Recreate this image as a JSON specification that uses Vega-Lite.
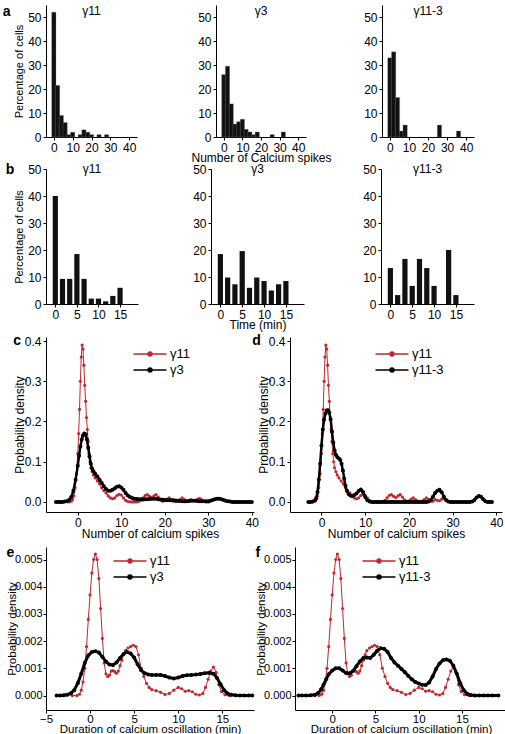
{
"$schema":"https://vega.github.io/schema/vega-lite/v6.json",
"background":"white",
"padding":{"left":2,"top":5,"right":0,"bottom":0},
"config":{
 "font":"Liberation Sans",
 "view":{"stroke":null},
 "axis":{"grid":false,"domainColor":"#000","tickColor":"#000","labelColor":"#000","titleColor":"#000","labelFont":"Liberation Sans","titleFont":"Liberation Sans","labelFontSize":12,"titleFontSize":12,"titleFontWeight":"normal","tickSize":3,"labelPadding":2,"titlePadding":3,"labelFlush":false},
 "title":{"font":"Liberation Sans","fontWeight":"normal","fontSize":12,"color":"#000"},
 "legend":{"labelFont":"Liberation Sans","labelFontSize":13,"labelColor":"#000","rowPadding":0,"symbolSize":272}
},
"datasets":{
 "hA":[
  {"p":"γ11","x":0,"v":52},{"p":"γ11","x":2,"v":21.5},{"p":"γ11","x":4,"v":9},{"p":"γ11","x":6,"v":6},{"p":"γ11","x":8,"v":1},{"p":"γ11","x":10,"v":2},{"p":"γ11","x":14,"v":1},{"p":"γ11","x":16,"v":3},{"p":"γ11","x":18,"v":2},{"p":"γ11","x":20,"v":1},{"p":"γ11","x":24,"v":1},{"p":"γ11","x":28,"v":1},
  {"p":"γ3","x":0,"v":26},{"p":"γ3","x":2,"v":29.5},{"p":"γ3","x":4,"v":13.8},{"p":"γ3","x":6,"v":5.4},{"p":"γ3","x":8,"v":6.4},{"p":"γ3","x":10,"v":7.4},{"p":"γ3","x":12,"v":3.2},{"p":"γ3","x":14,"v":2.1},{"p":"γ3","x":16,"v":1},{"p":"γ3","x":18,"v":2.1},{"p":"γ3","x":26,"v":1},{"p":"γ3","x":32,"v":2.1},
  {"p":"γ11-3","x":0,"v":33},{"p":"γ11-3","x":2,"v":35.5},{"p":"γ11-3","x":4,"v":16.5},{"p":"γ11-3","x":6,"v":2.5},{"p":"γ11-3","x":8,"v":5},{"p":"γ11-3","x":26,"v":5},{"p":"γ11-3","x":36,"v":2.5}
 ],
 "hB":[
  {"p":"γ11","t":0,"v":40},{"p":"γ11","t":1.667,"v":9.3},{"p":"γ11","t":3.333,"v":9.3},{"p":"γ11","t":5,"v":18.5},{"p":"γ11","t":6.667,"v":9.3},{"p":"γ11","t":8.333,"v":2},{"p":"γ11","t":10,"v":2},{"p":"γ11","t":11.667,"v":1},{"p":"γ11","t":13.333,"v":3},{"p":"γ11","t":15,"v":6},
  {"p":"γ3","t":0,"v":18.5},{"p":"γ3","t":1.667,"v":9.8},{"p":"γ3","t":3.333,"v":7.3},{"p":"γ3","t":5,"v":19.6},{"p":"γ3","t":6.667,"v":6},{"p":"γ3","t":8.333,"v":9.8},{"p":"γ3","t":10,"v":8.5},{"p":"γ3","t":11.667,"v":5},{"p":"γ3","t":13.333,"v":7.3},{"p":"γ3","t":15,"v":8.5},
  {"p":"γ11-3","t":0,"v":13.3},{"p":"γ11-3","t":1.667,"v":3.3},{"p":"γ11-3","t":3.333,"v":16.7},{"p":"γ11-3","t":5,"v":6.7},{"p":"γ11-3","t":6.667,"v":16.7},{"p":"γ11-3","t":8.333,"v":13.3},{"p":"γ11-3","t":10,"v":6.7},{"p":"γ11-3","t":13.333,"v":20},{"p":"γ11-3","t":15,"v":3.3}
 ],
 "spk":[
  {"s":"γ11","x":-2,"y":0},{"s":"γ11","x":-1.5,"y":0.002},{"s":"γ11","x":-1.2,"y":0.006},{"s":"γ11","x":-0.9,"y":0.015},{"s":"γ11","x":-0.6,"y":0.035},{"s":"γ11","x":-0.3,"y":0.07},{"s":"γ11","x":0,"y":0.12},{"s":"γ11","x":0.2,"y":0.17},{"s":"γ11","x":0.4,"y":0.23},{"s":"γ11","x":0.6,"y":0.3},{"s":"γ11","x":0.8,"y":0.36},{"s":"γ11","x":1,"y":0.39},{"s":"γ11","x":1.2,"y":0.38},{"s":"γ11","x":1.4,"y":0.34},{"s":"γ11","x":1.6,"y":0.29},{"s":"γ11","x":1.8,"y":0.25},{"s":"γ11","x":2,"y":0.21},{"s":"γ11","x":2.2,"y":0.18},{"s":"γ11","x":2.4,"y":0.15},{"s":"γ11","x":2.6,"y":0.12},{"s":"γ11","x":2.8,"y":0.1},{"s":"γ11","x":3,"y":0.085},{"s":"γ11","x":3.3,"y":0.075},{"s":"γ11","x":3.6,"y":0.067},{"s":"γ11","x":4,"y":0.06},{"s":"γ11","x":4.5,"y":0.052},{"s":"γ11","x":5,"y":0.045},{"s":"γ11","x":5.5,"y":0.035},{"s":"γ11","x":6,"y":0.028},{"s":"γ11","x":6.5,"y":0.022},{"s":"γ11","x":7,"y":0.015},{"s":"γ11","x":7.5,"y":0.01},{"s":"γ11","x":8,"y":0.008},{"s":"γ11","x":8.5,"y":0.01},{"s":"γ11","x":9,"y":0.016},{"s":"γ11","x":9.5,"y":0.019},{"s":"γ11","x":10,"y":0.017},{"s":"γ11","x":10.5,"y":0.01},{"s":"γ11","x":11,"y":0.004},{"s":"γ11","x":11.5,"y":0.001},{"s":"γ11","x":12,"y":0},{"s":"γ11","x":12.5,"y":0},{"s":"γ11","x":13,"y":0},{"s":"γ11","x":13.5,"y":0},{"s":"γ11","x":14,"y":0.001},{"s":"γ11","x":14.5,"y":0.004},{"s":"γ11","x":15,"y":0.01},{"s":"γ11","x":15.5,"y":0.016},{"s":"γ11","x":16,"y":0.018},{"s":"γ11","x":16.5,"y":0.014},{"s":"γ11","x":17,"y":0.011},{"s":"γ11","x":17.5,"y":0.015},{"s":"γ11","x":18,"y":0.018},{"s":"γ11","x":18.5,"y":0.012},{"s":"γ11","x":19,"y":0.005},{"s":"γ11","x":19.5,"y":0.002},{"s":"γ11","x":20,"y":0.003},{"s":"γ11","x":20.5,"y":0.007},{"s":"γ11","x":21,"y":0.01},{"s":"γ11","x":21.5,"y":0.006},{"s":"γ11","x":22,"y":0.002},{"s":"γ11","x":22.5,"y":0.001},{"s":"γ11","x":23,"y":0.002},{"s":"γ11","x":23.5,"y":0.006},{"s":"γ11","x":24,"y":0.01},{"s":"γ11","x":24.5,"y":0.006},{"s":"γ11","x":25,"y":0.002},{"s":"γ11","x":25.5,"y":0.002},{"s":"γ11","x":26,"y":0.006},{"s":"γ11","x":26.5,"y":0.004},{"s":"γ11","x":27,"y":0.003},{"s":"γ11","x":27.5,"y":0.007},{"s":"γ11","x":28,"y":0.009},{"s":"γ11","x":28.5,"y":0.005},{"s":"γ11","x":29,"y":0.001},{"s":"γ11","x":29.5,"y":0},{"s":"γ11","x":30,"y":0},
  {"s":"γ3","x":-5,"y":0},{"s":"γ3","x":-4.5,"y":0},{"s":"γ3","x":-4,"y":0},{"s":"γ3","x":-3.5,"y":0},{"s":"γ3","x":-3,"y":0.001},{"s":"γ3","x":-2.5,"y":0.002},{"s":"γ3","x":-2,"y":0.005},{"s":"γ3","x":-1.5,"y":0.012},{"s":"γ3","x":-1,"y":0.028},{"s":"γ3","x":-0.5,"y":0.055},{"s":"γ3","x":0,"y":0.09},{"s":"γ3","x":0.3,"y":0.115},{"s":"γ3","x":0.6,"y":0.138},{"s":"γ3","x":0.9,"y":0.155},{"s":"γ3","x":1.2,"y":0.165},{"s":"γ3","x":1.5,"y":0.17},{"s":"γ3","x":1.8,"y":0.168},{"s":"γ3","x":2.1,"y":0.155},{"s":"γ3","x":2.4,"y":0.135},{"s":"γ3","x":2.7,"y":0.113},{"s":"γ3","x":3,"y":0.095},{"s":"γ3","x":3.3,"y":0.083},{"s":"γ3","x":3.6,"y":0.076},{"s":"γ3","x":4,"y":0.07},{"s":"γ3","x":4.5,"y":0.063},{"s":"γ3","x":5,"y":0.055},{"s":"γ3","x":5.5,"y":0.047},{"s":"γ3","x":6,"y":0.039},{"s":"γ3","x":6.5,"y":0.032},{"s":"γ3","x":7,"y":0.028},{"s":"γ3","x":7.5,"y":0.028},{"s":"γ3","x":8,"y":0.03},{"s":"γ3","x":8.5,"y":0.034},{"s":"γ3","x":9,"y":0.038},{"s":"γ3","x":9.5,"y":0.039},{"s":"γ3","x":10,"y":0.036},{"s":"γ3","x":10.5,"y":0.03},{"s":"γ3","x":11,"y":0.022},{"s":"γ3","x":11.5,"y":0.016},{"s":"γ3","x":12,"y":0.012},{"s":"γ3","x":12.5,"y":0.01},{"s":"γ3","x":13,"y":0.008},{"s":"γ3","x":13.5,"y":0.0075},{"s":"γ3","x":14,"y":0.007},{"s":"γ3","x":14.5,"y":0.0065},{"s":"γ3","x":15,"y":0.006},{"s":"γ3","x":15.5,"y":0.0065},{"s":"γ3","x":16,"y":0.007},{"s":"γ3","x":16.5,"y":0.0075},{"s":"γ3","x":17,"y":0.008},{"s":"γ3","x":17.5,"y":0.008},{"s":"γ3","x":18,"y":0.008},{"s":"γ3","x":18.5,"y":0.007},{"s":"γ3","x":19,"y":0.006},{"s":"γ3","x":19.5,"y":0.0055},{"s":"γ3","x":20,"y":0.005},{"s":"γ3","x":20.5,"y":0.0045},{"s":"γ3","x":21,"y":0.004},{"s":"γ3","x":21.5,"y":0.004},{"s":"γ3","x":22,"y":0.004},{"s":"γ3","x":22.5,"y":0.0035},{"s":"γ3","x":23,"y":0.003},{"s":"γ3","x":23.5,"y":0.0025},{"s":"γ3","x":24,"y":0.002},{"s":"γ3","x":24.5,"y":0.002},{"s":"γ3","x":25,"y":0.002},{"s":"γ3","x":25.5,"y":0.0025},{"s":"γ3","x":26,"y":0.003},{"s":"γ3","x":26.5,"y":0.003},{"s":"γ3","x":27,"y":0.003},{"s":"γ3","x":27.5,"y":0.0025},{"s":"γ3","x":28,"y":0.002},{"s":"γ3","x":28.5,"y":0.002},{"s":"γ3","x":29,"y":0.002},{"s":"γ3","x":29.5,"y":0.002},{"s":"γ3","x":30,"y":0.002},{"s":"γ3","x":30.5,"y":0.003},{"s":"γ3","x":31,"y":0.005},{"s":"γ3","x":31.5,"y":0.007},{"s":"γ3","x":32,"y":0.008},{"s":"γ3","x":32.5,"y":0.008},{"s":"γ3","x":33,"y":0.007},{"s":"γ3","x":33.5,"y":0.005},{"s":"γ3","x":34,"y":0.003},{"s":"γ3","x":34.5,"y":0.002},{"s":"γ3","x":35,"y":0.001},{"s":"γ3","x":35.5,"y":0},{"s":"γ3","x":36,"y":0},{"s":"γ3","x":36.5,"y":0},{"s":"γ3","x":37,"y":0},{"s":"γ3","x":37.5,"y":0},{"s":"γ3","x":38,"y":0},{"s":"γ3","x":38.5,"y":0},{"s":"γ3","x":39,"y":0},{"s":"γ3","x":39.5,"y":0},{"s":"γ3","x":40,"y":0},
  {"s":"γ11-3","x":-3,"y":0},{"s":"γ11-3","x":-2.5,"y":0},{"s":"γ11-3","x":-2,"y":0.001},{"s":"γ11-3","x":-1.5,"y":0.004},{"s":"γ11-3","x":-1.2,"y":0.01},{"s":"γ11-3","x":-0.9,"y":0.025},{"s":"γ11-3","x":-0.6,"y":0.055},{"s":"γ11-3","x":-0.3,"y":0.095},{"s":"γ11-3","x":0,"y":0.14},{"s":"γ11-3","x":0.3,"y":0.18},{"s":"γ11-3","x":0.6,"y":0.205},{"s":"γ11-3","x":0.9,"y":0.22},{"s":"γ11-3","x":1.2,"y":0.227},{"s":"γ11-3","x":1.5,"y":0.228},{"s":"γ11-3","x":1.8,"y":0.222},{"s":"γ11-3","x":2.1,"y":0.205},{"s":"γ11-3","x":2.4,"y":0.175},{"s":"γ11-3","x":2.7,"y":0.148},{"s":"γ11-3","x":3,"y":0.128},{"s":"γ11-3","x":3.3,"y":0.117},{"s":"γ11-3","x":3.6,"y":0.112},{"s":"γ11-3","x":4,"y":0.108},{"s":"γ11-3","x":4.3,"y":0.104},{"s":"γ11-3","x":4.6,"y":0.095},{"s":"γ11-3","x":4.9,"y":0.078},{"s":"γ11-3","x":5.2,"y":0.058},{"s":"γ11-3","x":5.5,"y":0.04},{"s":"γ11-3","x":5.8,"y":0.028},{"s":"γ11-3","x":6.2,"y":0.02},{"s":"γ11-3","x":6.6,"y":0.016},{"s":"γ11-3","x":7,"y":0.015},{"s":"γ11-3","x":7.5,"y":0.017},{"s":"γ11-3","x":8,"y":0.021},{"s":"γ11-3","x":8.5,"y":0.027},{"s":"γ11-3","x":9,"y":0.031},{"s":"γ11-3","x":9.5,"y":0.025},{"s":"γ11-3","x":10,"y":0.012},{"s":"γ11-3","x":10.5,"y":0.004},{"s":"γ11-3","x":11,"y":0.001},{"s":"γ11-3","x":11.5,"y":0},{"s":"γ11-3","x":12,"y":0},{"s":"γ11-3","x":12.5,"y":0},{"s":"γ11-3","x":13,"y":0},{"s":"γ11-3","x":13.5,"y":0},{"s":"γ11-3","x":14,"y":0},{"s":"γ11-3","x":14.5,"y":0},{"s":"γ11-3","x":15,"y":0},{"s":"γ11-3","x":15.5,"y":0},{"s":"γ11-3","x":16,"y":0},{"s":"γ11-3","x":16.5,"y":0},{"s":"γ11-3","x":17,"y":0},{"s":"γ11-3","x":17.5,"y":0},{"s":"γ11-3","x":18,"y":0},{"s":"γ11-3","x":18.5,"y":0},{"s":"γ11-3","x":19,"y":0},{"s":"γ11-3","x":19.5,"y":0},{"s":"γ11-3","x":20,"y":0},{"s":"γ11-3","x":20.5,"y":0},{"s":"γ11-3","x":21,"y":0},{"s":"γ11-3","x":21.5,"y":0},{"s":"γ11-3","x":22,"y":0},{"s":"γ11-3","x":22.5,"y":0},{"s":"γ11-3","x":23,"y":0},{"s":"γ11-3","x":23.5,"y":0},{"s":"γ11-3","x":24,"y":0},{"s":"γ11-3","x":24.5,"y":0.001},{"s":"γ11-3","x":25,"y":0.005},{"s":"γ11-3","x":25.5,"y":0.013},{"s":"γ11-3","x":26,"y":0.022},{"s":"γ11-3","x":26.5,"y":0.028},{"s":"γ11-3","x":27,"y":0.03},{"s":"γ11-3","x":27.5,"y":0.024},{"s":"γ11-3","x":28,"y":0.013},{"s":"γ11-3","x":28.5,"y":0.005},{"s":"γ11-3","x":29,"y":0.001},{"s":"γ11-3","x":29.5,"y":0},{"s":"γ11-3","x":30,"y":0},{"s":"γ11-3","x":30.5,"y":0},{"s":"γ11-3","x":31,"y":0},{"s":"γ11-3","x":31.5,"y":0},{"s":"γ11-3","x":32,"y":0},{"s":"γ11-3","x":32.5,"y":0},{"s":"γ11-3","x":33,"y":0},{"s":"γ11-3","x":33.5,"y":0},{"s":"γ11-3","x":34,"y":0},{"s":"γ11-3","x":34.5,"y":0.001},{"s":"γ11-3","x":35,"y":0.005},{"s":"γ11-3","x":35.5,"y":0.011},{"s":"γ11-3","x":36,"y":0.015},{"s":"γ11-3","x":36.5,"y":0.013},{"s":"γ11-3","x":37,"y":0.007},{"s":"γ11-3","x":37.5,"y":0.002},{"s":"γ11-3","x":38,"y":0},{"s":"γ11-3","x":38.5,"y":0},{"s":"γ11-3","x":39,"y":0}
 ],
 "dur":[
  {"s":"γ11","x":-2,"y":0},{"s":"γ11","x":-1.5,"y":0},{"s":"γ11","x":-1.2,"y":0.00005},{"s":"γ11","x":-1,"y":0.0002},{"s":"γ11","x":-0.8,"y":0.0005},{"s":"γ11","x":-0.6,"y":0.001},{"s":"γ11","x":-0.4,"y":0.0018},{"s":"γ11","x":-0.2,"y":0.0028},{"s":"γ11","x":0,"y":0.0037},{"s":"γ11","x":0.2,"y":0.0045},{"s":"γ11","x":0.4,"y":0.005},{"s":"γ11","x":0.6,"y":0.0052},{"s":"γ11","x":0.8,"y":0.005},{"s":"γ11","x":1,"y":0.0043},{"s":"γ11","x":1.2,"y":0.0032},{"s":"γ11","x":1.4,"y":0.0021},{"s":"γ11","x":1.6,"y":0.0012},{"s":"γ11","x":1.8,"y":0.0008},{"s":"γ11","x":2,"y":0.0007},{"s":"γ11","x":2.2,"y":0.00075},{"s":"γ11","x":2.4,"y":0.0009},{"s":"γ11","x":2.6,"y":0.00092},{"s":"γ11","x":2.8,"y":0.00088},{"s":"γ11","x":3,"y":0.00082},{"s":"γ11","x":3.2,"y":0.0009},{"s":"γ11","x":3.4,"y":0.0011},{"s":"γ11","x":3.6,"y":0.0013},{"s":"γ11","x":3.8,"y":0.0015},{"s":"γ11","x":4,"y":0.00165},{"s":"γ11","x":4.3,"y":0.00175},{"s":"γ11","x":4.6,"y":0.0018},{"s":"γ11","x":4.9,"y":0.00185},{"s":"γ11","x":5.2,"y":0.0018},{"s":"γ11","x":5.5,"y":0.0015},{"s":"γ11","x":5.8,"y":0.001},{"s":"γ11","x":6.1,"y":0.0007},{"s":"γ11","x":6.4,"y":0.00045},{"s":"γ11","x":6.7,"y":0.0003},{"s":"γ11","x":7,"y":0.00022},{"s":"γ11","x":7.5,"y":0.00018},{"s":"γ11","x":8,"y":0.00012},{"s":"γ11","x":8.5,"y":0.00004},{"s":"γ11","x":9,"y":0.00008},{"s":"γ11","x":9.5,"y":0.0002},{"s":"γ11","x":10,"y":0.0003},{"s":"γ11","x":10.4,"y":0.00025},{"s":"γ11","x":10.8,"y":0.00016},{"s":"γ11","x":11.2,"y":0.00018},{"s":"γ11","x":11.6,"y":0.00014},{"s":"γ11","x":12,"y":0.00005},{"s":"γ11","x":12.4,"y":0.00002},{"s":"γ11","x":12.8,"y":0.00008},{"s":"γ11","x":13.1,"y":0.0003},{"s":"γ11","x":13.4,"y":0.0006},{"s":"γ11","x":13.7,"y":0.0009},{"s":"γ11","x":14,"y":0.00105},{"s":"γ11","x":14.3,"y":0.00085},{"s":"γ11","x":14.6,"y":0.0004},{"s":"γ11","x":14.9,"y":0.00015},{"s":"γ11","x":15.3,"y":0.00003},{"s":"γ11","x":15.8,"y":0},{"s":"γ11","x":16.5,"y":0},
  {"s":"γ3","x":-3.8,"y":0},{"s":"γ3","x":-3.4,"y":0},{"s":"γ3","x":-3,"y":0.00001},{"s":"γ3","x":-2.6,"y":0.00003},{"s":"γ3","x":-2.2,"y":0.00008},{"s":"γ3","x":-1.8,"y":0.0002},{"s":"γ3","x":-1.4,"y":0.00045},{"s":"γ3","x":-1,"y":0.0008},{"s":"γ3","x":-0.6,"y":0.0012},{"s":"γ3","x":-0.2,"y":0.00148},{"s":"γ3","x":0.2,"y":0.0016},{"s":"γ3","x":0.6,"y":0.00163},{"s":"γ3","x":1,"y":0.00158},{"s":"γ3","x":1.4,"y":0.00142},{"s":"γ3","x":1.8,"y":0.00125},{"s":"γ3","x":2.2,"y":0.00114},{"s":"γ3","x":2.6,"y":0.00112},{"s":"γ3","x":3,"y":0.00122},{"s":"γ3","x":3.4,"y":0.00138},{"s":"γ3","x":3.8,"y":0.00153},{"s":"γ3","x":4.2,"y":0.0016},{"s":"γ3","x":4.6,"y":0.00155},{"s":"γ3","x":5,"y":0.0014},{"s":"γ3","x":5.4,"y":0.00115},{"s":"γ3","x":5.8,"y":0.00093},{"s":"γ3","x":6.2,"y":0.00082},{"s":"γ3","x":6.6,"y":0.00077},{"s":"γ3","x":7,"y":0.00076},{"s":"γ3","x":7.5,"y":0.00076},{"s":"γ3","x":8,"y":0.00076},{"s":"γ3","x":8.5,"y":0.00072},{"s":"γ3","x":9,"y":0.00066},{"s":"γ3","x":9.5,"y":0.00063},{"s":"γ3","x":10,"y":0.00066},{"s":"γ3","x":10.5,"y":0.00072},{"s":"γ3","x":11,"y":0.00075},{"s":"γ3","x":11.5,"y":0.00076},{"s":"γ3","x":12,"y":0.00077},{"s":"γ3","x":12.5,"y":0.00079},{"s":"γ3","x":13,"y":0.00082},{"s":"γ3","x":13.5,"y":0.00084},{"s":"γ3","x":14,"y":0.0008},{"s":"γ3","x":14.4,"y":0.00065},{"s":"γ3","x":14.8,"y":0.00042},{"s":"γ3","x":15.2,"y":0.0002},{"s":"γ3","x":15.6,"y":0.00008},{"s":"γ3","x":16,"y":0.00003},{"s":"γ3","x":16.5,"y":0.00001},{"s":"γ3","x":17,"y":0},{"s":"γ3","x":17.5,"y":0},{"s":"γ3","x":18,"y":0},{"s":"γ3","x":18.4,"y":0},
  {"s":"γ11-3","x":-3.9,"y":0},{"s":"γ11-3","x":-3.5,"y":0},{"s":"γ11-3","x":-3,"y":0},{"s":"γ11-3","x":-2.5,"y":0.00001},{"s":"γ11-3","x":-2,"y":0.00003},{"s":"γ11-3","x":-1.6,"y":0.0001},{"s":"γ11-3","x":-1.3,"y":0.00022},{"s":"γ11-3","x":-1,"y":0.0004},{"s":"γ11-3","x":-0.7,"y":0.0006},{"s":"γ11-3","x":-0.4,"y":0.00078},{"s":"γ11-3","x":0,"y":0.00092},{"s":"γ11-3","x":0.4,"y":0.001},{"s":"γ11-3","x":0.8,"y":0.001},{"s":"γ11-3","x":1.2,"y":0.00092},{"s":"γ11-3","x":1.6,"y":0.00083},{"s":"γ11-3","x":2,"y":0.00082},{"s":"γ11-3","x":2.4,"y":0.0009},{"s":"γ11-3","x":2.8,"y":0.00108},{"s":"γ11-3","x":3.2,"y":0.00125},{"s":"γ11-3","x":3.6,"y":0.00138},{"s":"γ11-3","x":4,"y":0.0014},{"s":"γ11-3","x":4.4,"y":0.00138},{"s":"γ11-3","x":4.8,"y":0.0015},{"s":"γ11-3","x":5.2,"y":0.00165},{"s":"γ11-3","x":5.6,"y":0.00174},{"s":"γ11-3","x":6,"y":0.00172},{"s":"γ11-3","x":6.4,"y":0.0016},{"s":"γ11-3","x":6.8,"y":0.00138},{"s":"γ11-3","x":7.2,"y":0.00122},{"s":"γ11-3","x":7.6,"y":0.0011},{"s":"γ11-3","x":8,"y":0.00098},{"s":"γ11-3","x":8.4,"y":0.00086},{"s":"γ11-3","x":8.8,"y":0.00072},{"s":"γ11-3","x":9.2,"y":0.0006},{"s":"γ11-3","x":9.6,"y":0.0005},{"s":"γ11-3","x":10,"y":0.00044},{"s":"γ11-3","x":10.4,"y":0.0004},{"s":"γ11-3","x":10.8,"y":0.00039},{"s":"γ11-3","x":11.2,"y":0.00048},{"s":"γ11-3","x":11.6,"y":0.0007},{"s":"γ11-3","x":12,"y":0.00098},{"s":"γ11-3","x":12.4,"y":0.00118},{"s":"γ11-3","x":12.8,"y":0.0013},{"s":"γ11-3","x":13.2,"y":0.00133},{"s":"γ11-3","x":13.6,"y":0.00128},{"s":"γ11-3","x":14,"y":0.0011},{"s":"γ11-3","x":14.4,"y":0.0008},{"s":"γ11-3","x":14.8,"y":0.00045},{"s":"γ11-3","x":15.2,"y":0.0002},{"s":"γ11-3","x":15.6,"y":0.00007},{"s":"γ11-3","x":16,"y":0.00002},{"s":"γ11-3","x":16.5,"y":0},{"s":"γ11-3","x":17,"y":0},{"s":"γ11-3","x":17.5,"y":0},{"s":"γ11-3","x":18,"y":0},{"s":"γ11-3","x":18.5,"y":0},{"s":"γ11-3","x":19.2,"y":0}
 ]
},
"spacing":4,
"resolve":{"scale":{"color":"independent"},"legend":{"color":"independent"}},
"vconcat":[
 {"spacing":0,
  "vconcat":[
  {"title":{"text":"a","anchor":"start","frame":"bounds","offset":-14,"fontWeight":"bold","fontSize":14,"dx":-11},
   "spacing":53,
   "hconcat":[
    {"width":91,"height":132,"title":{"text":"γ11","offset":-13,"frame":"group"},"data":{"name":"hA"},"transform":[{"filter":{"field":"p","equal":"γ11"}}],
     "mark":{"type":"bar","width":4.3,"color":"#111","stroke":"#888","strokeWidth":0.3},
     "encoding":{"x":{"field":"x","type":"quantitative","scale":{"domain":[-1.5,41.5],"nice":false,"zero":false},"axis":{"values":[0,10,20,30,40],"title":null}},
                 "y":{"field":"v","type":"quantitative","scale":{"domain":[0,55],"nice":false},"axis":{"values":[0,10,20,30,40,50],"title":"Percentage  of cells","titleFontSize":11}}}},
    {"spacing":31,
     "hconcat":[
      {"width":90,"height":132,"title":{"text":"γ3","offset":-13,"frame":"group"},"data":{"name":"hA"},"transform":[{"filter":{"field":"p","equal":"γ3"}}],
       "mark":{"type":"bar","width":4.3,"color":"#111","stroke":"#888","strokeWidth":0.3},
       "encoding":{"x":{"field":"x","type":"quantitative","scale":{"domain":[-1.5,41.5],"nice":false,"zero":false},"axis":{"values":[0,10,20,30,40],"title":"Number of Calcium spikes","titlePadding":-1}},
                   "y":{"field":"v","type":"quantitative","scale":{"domain":[0,55],"nice":false},"axis":{"values":[0,10,20,30,40,50],"title":null}}}},
      {"width":92,"height":132,"title":{"text":"γ11-3","offset":-13,"frame":"group"},"data":{"name":"hA"},"transform":[{"filter":{"field":"p","equal":"γ11-3"}}],
       "mark":{"type":"bar","width":4.3,"color":"#111","stroke":"#888","strokeWidth":0.3},
       "encoding":{"x":{"field":"x","type":"quantitative","scale":{"domain":[-1.5,41.5],"nice":false,"zero":false},"axis":{"values":[0,10,20,30,40],"title":null}},
                   "y":{"field":"v","type":"quantitative","scale":{"domain":[0,55],"nice":false},"axis":{"values":[0,10,20,30,40,50],"title":null}}}}
     ]}
   ]},
  {"title":{"text":"b","anchor":"start","frame":"bounds","offset":-14,"fontWeight":"bold","fontSize":14,"dx":-8},
   "spacing":54,
   "hconcat":[
    {"width":92,"height":135,"title":{"text":"γ11","offset":-13,"frame":"group"},"data":{"name":"hB"},"transform":[{"filter":{"field":"p","equal":"γ11"}}],
     "mark":{"type":"bar","width":5.2,"color":"#111"},
     "encoding":{"x":{"field":"t","type":"quantitative","scale":{"domain":[-1,18],"nice":false,"zero":false},"axis":{"values":[0,5,10,15],"title":null}},
                 "y":{"field":"v","type":"quantitative","scale":{"domain":[0,50],"nice":false},"axis":{"values":[0,10,20,30,40,50],"title":"Percentage of cells","titleFontSize":11}}}},
    {"spacing":58,
     "hconcat":[
      {"width":93,"height":135,"title":{"text":"γ3","offset":-13,"frame":"group"},"data":{"name":"hB"},"transform":[{"filter":{"field":"p","equal":"γ3"}}],
       "mark":{"type":"bar","width":5.2,"color":"#111"},
       "encoding":{"x":{"field":"t","type":"quantitative","scale":{"domain":[-1,18],"nice":false,"zero":false},"axis":{"values":[0,5,10,15],"title":"Time (min)","titlePadding":-1}},
                   "y":{"field":"v","type":"quantitative","scale":{"domain":[0,50],"nice":false},"axis":{"values":[0,10,20,30,40,50],"title":null}}}},
      {"width":93,"height":135,"title":{"text":"γ11-3","offset":-13,"frame":"group"},"data":{"name":"hB"},"transform":[{"filter":{"field":"p","equal":"γ11-3"}}],
       "mark":{"type":"bar","width":5.2,"color":"#111"},
       "encoding":{"x":{"field":"t","type":"quantitative","scale":{"domain":[-1,18],"nice":false,"zero":false},"axis":{"values":[0,5,10,15],"title":null}},
                   "y":{"field":"v","type":"quantitative","scale":{"domain":[0,50],"nice":false},"axis":{"values":[0,10,20,30,40,50],"title":null}}}}
     ]}
   ]}
 ]},
 {"spacing":7,
  "resolve":{"scale":{"color":"independent"},"legend":{"color":"independent"}},
  "vconcat":[
  {"spacing":-7,
   "resolve":{"scale":{"color":"independent"},"legend":{"color":"independent"}},
   "hconcat":[
    {"width":208,"height":175,"title":{"text":"c","anchor":"start","frame":"bounds","offset":-13,"fontWeight":"bold","fontSize":14,"dx":0},
     "data":{"name":"spk"},
     "encoding":{"x":{"field":"x","type":"quantitative","scale":{"domain":[-7.3,40.5],"nice":false,"zero":false},"axis":{"values":[0,10,20,30,40],"title":"Number of calcium spikes","titlePadding":0}},
                 "y":{"field":"y","type":"quantitative","scale":{"domain":[-0.025,0.41],"nice":false,"zero":false},"axis":{"values":[0,0.1,0.2,0.3,0.4],"format":".1f","title":"Probability density","titlePadding":-2}},
                 "color":{"field":"s","type":"nominal","scale":{"domain":["γ11","γ3"],"range":["#c1272d","#000000"]},
                   "legend":{"orient":"none","legendX":95,"legendY":8,"title":null,"symbolType":"M-2,0H2M-0.24,0A0.24,0.24,0,1,0,0.24,0A0.24,0.24,0,1,0,-0.24,0Z","symbolSize":272,"symbolStrokeWidth":1.5,"labelOffset":11,"rowPadding":0,"padding":0}}},
     "layer":[
      {"transform":[{"filter":{"field":"s","equal":"γ11"}}],"mark":{"type":"line","strokeWidth":1}},
      {"transform":[{"filter":{"field":"s","equal":"γ11"}}],"mark":{"type":"point","filled":true,"opacity":1,"size":10}},
      {"transform":[{"filter":{"field":"s","equal":"γ3"}}],"mark":{"type":"line","strokeWidth":2.5}},
      {"transform":[{"filter":{"field":"s","equal":"γ3"}}],"mark":{"type":"point","filled":true,"opacity":1,"size":16}}
     ]},
    {"width":212,"height":175,"title":{"text":"d","anchor":"start","frame":"bounds","offset":-13,"fontWeight":"bold","fontSize":14,"dx":-5},
     "data":{"name":"spk"},
     "encoding":{"x":{"field":"x","type":"quantitative","scale":{"domain":[-7.2,41.3],"nice":false,"zero":false},"axis":{"values":[0,10,20,30,40],"title":"Number of calcium spikes","titlePadding":0}},
                 "y":{"field":"y","type":"quantitative","scale":{"domain":[-0.025,0.41],"nice":false,"zero":false},"axis":{"values":[0,0.1,0.2,0.3,0.4],"format":".1f","title":"Probability density","titlePadding":-2}},
                 "color":{"field":"s","type":"nominal","scale":{"domain":["γ11","γ11-3"],"range":["#c1272d","#000000"]},
                   "legend":{"orient":"none","legendX":93,"legendY":8,"title":null,"symbolType":"M-2,0H2M-0.24,0A0.24,0.24,0,1,0,0.24,0A0.24,0.24,0,1,0,-0.24,0Z","symbolSize":272,"symbolStrokeWidth":1.5,"labelOffset":11,"rowPadding":0,"padding":0}}},
     "layer":[
      {"transform":[{"filter":{"field":"s","equal":"γ11"}}],"mark":{"type":"line","strokeWidth":1}},
      {"transform":[{"filter":{"field":"s","equal":"γ11"}}],"mark":{"type":"point","filled":true,"opacity":1,"size":10}},
      {"transform":[{"filter":{"field":"s","equal":"γ11-3"}}],"mark":{"type":"line","strokeWidth":2.5}},
      {"transform":[{"filter":{"field":"s","equal":"γ11-3"}}],"mark":{"type":"point","filled":true,"opacity":1,"size":16}}
     ]}
   ]},
  {"spacing":-4,
   "resolve":{"scale":{"color":"independent"},"legend":{"color":"independent"}},
   "hconcat":[
    {"width":208,"height":163,"title":{"text":"e","anchor":"start","frame":"bounds","offset":-13,"fontWeight":"bold","fontSize":14,"dx":0},
     "data":{"name":"dur"},
     "encoding":{"x":{"field":"x","type":"quantitative","scale":{"domain":[-5,18.6],"nice":false,"zero":false},"axis":{"values":[-5,0,5,10,15],"title":"Duration of calcium oscillation (min)","titlePadding":-1,"labelPadding":0,"labelFontSize":11.5,"titleFontSize":11.5}},
                 "y":{"field":"y","type":"quantitative","scale":{"domain":[-0.00053,0.00546],"nice":false,"zero":false},"axis":{"values":[0,0.001,0.002,0.003,0.004,0.005],"format":".3f","title":"Probability density","titlePadding":-3,"labelPadding":1,"labelFontSize":11,"titleFontSize":11.5}},
                 "color":{"field":"s","type":"nominal","scale":{"domain":["γ11","γ3"],"range":["#c1272d","#000000"]},
                   "legend":{"orient":"none","legendX":75,"legendY":5,"title":null,"symbolType":"M-2,0H2M-0.24,0A0.24,0.24,0,1,0,0.24,0A0.24,0.24,0,1,0,-0.24,0Z","symbolSize":272,"symbolStrokeWidth":1.5,"labelOffset":11,"rowPadding":0,"padding":0}}},
     "layer":[
      {"transform":[{"filter":{"field":"s","equal":"γ11"}}],"mark":{"type":"line","strokeWidth":1}},
      {"transform":[{"filter":{"field":"s","equal":"γ11"}}],"mark":{"type":"point","filled":true,"opacity":1,"size":10}},
      {"transform":[{"filter":{"field":"s","equal":"γ3"}}],"mark":{"type":"line","strokeWidth":3}},
      {"transform":[{"filter":{"field":"s","equal":"γ3"}}],"mark":{"type":"point","filled":true,"opacity":1,"size":16}}
     ]},
    {"width":212,"height":163,"title":{"text":"f","anchor":"start","frame":"bounds","offset":-13,"fontWeight":"bold","fontSize":14,"dx":0},
     "data":{"name":"dur"},
     "encoding":{"x":{"field":"x","type":"quantitative","scale":{"domain":[-4.3,20.2],"nice":false,"zero":false},"axis":{"values":[0,5,10,15],"title":"Duration of calcium oscillation (min)","titlePadding":-1,"labelPadding":0,"labelFontSize":11.5,"titleFontSize":11.5}},
                 "y":{"field":"y","type":"quantitative","scale":{"domain":[-0.00053,0.00546],"nice":false,"zero":false},"axis":{"values":[0,0.001,0.002,0.003,0.004,0.005],"format":".3f","title":"Probability density","titlePadding":-3,"labelPadding":1,"labelFontSize":11,"titleFontSize":11.5}},
                 "color":{"field":"s","type":"nominal","scale":{"domain":["γ11","γ11-3"],"range":["#c1272d","#000000"]},
                   "legend":{"orient":"none","legendX":75,"legendY":5,"title":null,"symbolType":"M-2,0H2M-0.24,0A0.24,0.24,0,1,0,0.24,0A0.24,0.24,0,1,0,-0.24,0Z","symbolSize":272,"symbolStrokeWidth":1.5,"labelOffset":11,"rowPadding":0,"padding":0}}},
     "layer":[
      {"transform":[{"filter":{"field":"s","equal":"γ11"}}],"mark":{"type":"line","strokeWidth":1}},
      {"transform":[{"filter":{"field":"s","equal":"γ11"}}],"mark":{"type":"point","filled":true,"opacity":1,"size":10}},
      {"transform":[{"filter":{"field":"s","equal":"γ11-3"}}],"mark":{"type":"line","strokeWidth":3}},
      {"transform":[{"filter":{"field":"s","equal":"γ11-3"}}],"mark":{"type":"point","filled":true,"opacity":1,"size":16}}
     ]}
   ]}
 ]}
]
}
